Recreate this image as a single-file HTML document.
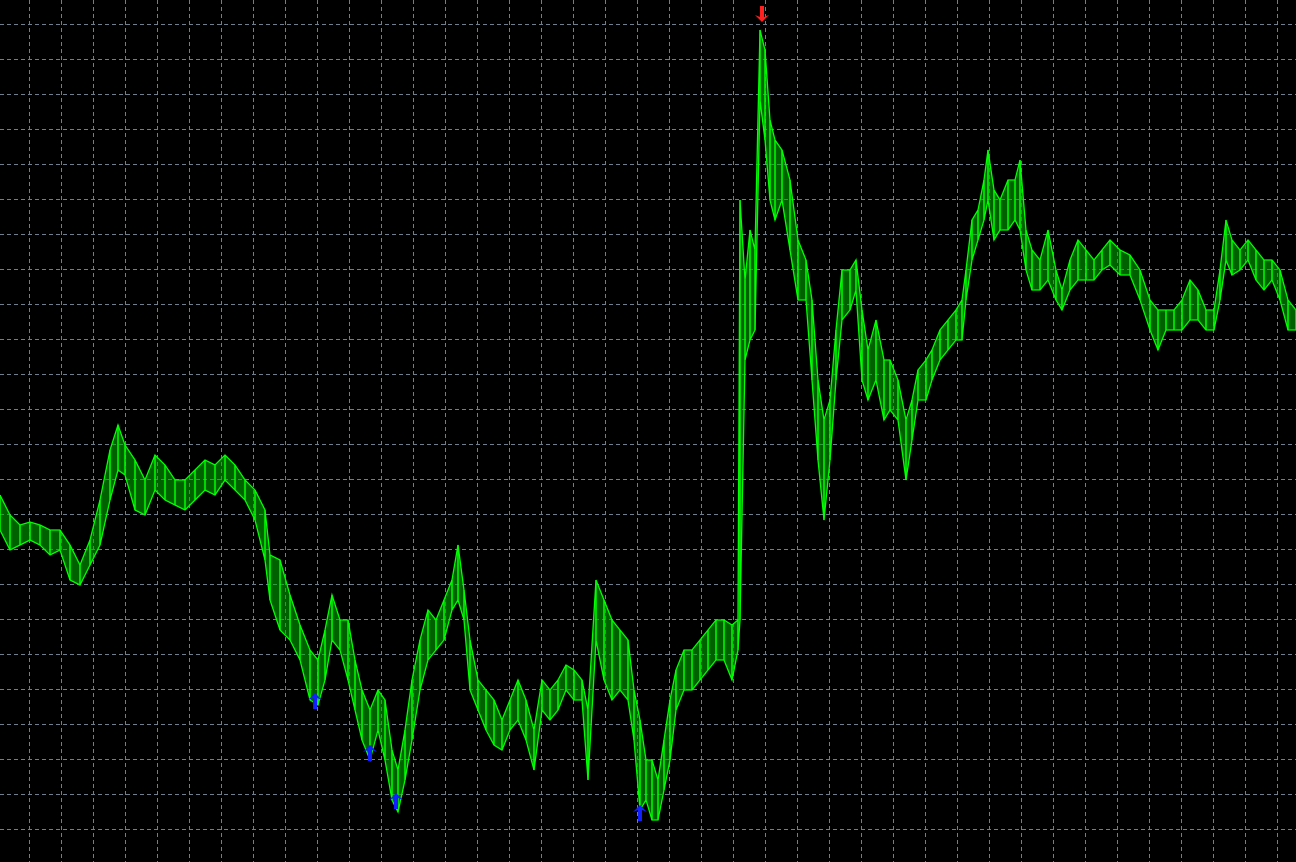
<!DOCTYPE html>
<html><head><meta charset="utf-8"><style>
html,body{margin:0;padding:0;background:#000;overflow:hidden}
svg{display:block}
</style></head><body>
<svg id="chart" width="1296" height="862" viewBox="0 0 1296 862" xmlns="http://www.w3.org/2000/svg">
<rect x="0" y="0" width="1296" height="862" fill="#000"/>
<g id="grid"></g>
<g id="series"></g>
<g id="signals"></g>
</svg>
<script>
const times=[0,10,20,30,40,50,60,70,80,90,100,110,118,125,135,145,155,165,175,185,195,205,215,225,235,245,255,265,270,280,290,300,310,318,325,332,340,348,355,362,370,378,385,392,398,405,412,420,428,436,444,452,458,464,470,478,486,494,502,510,518,526,534,542,550,558,566,574,582,588,596,604,612,620,628,634,640,646,652,658,664,670,676,684,692,700,708,716,724,732,738,740,745,750,755,760,765,770,775,782,790,798,806,812,818,824,830,836,842,850,856,862,868,876,884,890,898,906,912,918,926,932,940,948,956,962,966,972,978,984,988,994,1000,1008,1015,1020,1026,1032,1040,1048,1056,1062,1070,1078,1086,1094,1102,1110,1120,1130,1140,1150,1158,1166,1174,1182,1190,1198,1206,1214,1220,1226,1232,1240,1248,1256,1264,1272,1280,1288,1296];
const highs=[367,347,337,340,337,332,332,317,297,322,362,412,437,417,402,382,407,397,382,382,392,402,397,407,397,382,372,352,307,302,267,237,212,202,232,267,242,242,202,172,152,172,162,112,92,132,182,222,252,242,262,282,317,272,222,182,172,162,142,162,182,162,132,182,172,182,197,192,182,152,282,262,242,232,222,172,142,102,102,82,122,162,192,212,212,222,232,242,242,237,242,662,582,632,612,832,812,742,722,712,682,622,602,562,482,442,462,532,592,592,602,552,512,542,502,502,482,442,462,492,502,512,532,542,552,562,592,642,652,682,712,672,662,682,682,702,632,612,602,632,592,572,602,622,612,602,612,622,612,607,592,562,552,552,552,562,582,572,552,552,592,642,622,612,622,612,602,602,592,562,552];
const lows=[332,312,317,322,317,307,312,282,277,297,317,362,392,387,352,347,372,362,357,352,362,372,367,382,372,362,342,302,262,232,222,202,162,157,182,222,212,182,152,122,102,132,102,62,50,82,122,172,202,212,222,252,262,242,172,152,132,117,112,132,142,122,92,152,142,152,172,162,162,82,222,182,162,172,162,122,52,62,42,42,72,102,152,172,172,182,192,202,202,182,212,242,502,522,532,762,722,662,642,662,612,562,562,482,402,342,402,482,542,552,572,482,462,482,442,452,442,382,422,462,462,482,502,512,522,522,562,602,622,642,662,622,632,632,642,632,592,572,572,582,562,552,572,582,582,582,592,597,587,587,562,532,512,532,532,532,542,542,532,532,562,602,587,592,602,582,572,582,562,532,532];
const upTimes=[315,370,396,640];
const upPrices=[162,110,62,50];
const downTimes=[762];
const downPrices=[847];

const W=1296,H=862,NS='http://www.w3.org/2000/svg';
function xScale(t){return t*(W/1296);}
function yScale(p){return H-p;}
function mk(tag,attrs,parent){const e=document.createElementNS(NS,tag);for(const k in attrs)e.setAttribute(k,attrs[k]);parent.appendChild(e);return e;}

const grid=document.getElementById('grid');
for(let x=29.5;x<W;x+=32){
  const l=mk('line',{x1:x,y1:0,x2:x,y2:H,stroke:'#6f7f90','stroke-width':1,'stroke-dasharray':'4 3'},grid);
  
  
}
for(let y=24.5;y<H;y+=35){
  const l=mk('line',{x1:0,y1:y,x2:W,y2:y,stroke:'#6f7f90','stroke-width':1,'stroke-dasharray':'4 3'},grid);
  
  
}

const series=document.getElementById('series');
let pts=[];
for(let i=0;i<times.length;i++)pts.push(xScale(times[i])+','+yScale(highs[i]));
for(let i=times.length-1;i>=0;i--)pts.push(xScale(times[i])+','+yScale(lows[i]));
const band=mk('polygon',{points:pts.join(' '),fill:'#00b000','fill-opacity':0.55,stroke:'none'},series);


const hiLine=mk('polyline',{points:times.map((t,i)=>xScale(t)+','+yScale(highs[i])).join(' '),fill:'none',stroke:'#00ff00','stroke-width':1.3},series);


const loLine=mk('polyline',{points:times.map((t,i)=>xScale(t)+','+yScale(lows[i])).join(' '),fill:'none',stroke:'#00ff00','stroke-width':1.3},series);


for(let i=0;i<times.length;i++){
  const b=mk('line',{x1:xScale(times[i]),y1:yScale(highs[i]),x2:xScale(times[i]),y2:yScale(lows[i]),stroke:'#00ff00','stroke-width':1.5},series);
  
  
}

const sig=document.getElementById('signals');
for(let i=0;i<upTimes.length;i++){
  const x=xScale(upTimes[i]),y=yScale(upPrices[i]);
  const a=mk('path',{d:`M${x},${y-7} L${x+7},${y} L${x+2},${y-2} L${x+2},${y+9} L${x-2},${y+9} L${x-2},${y-2} L${x-7},${y} Z`,fill:'#1020ff'},sig);
  
  
}
for(let i=0;i<downTimes.length;i++){
  const x=xScale(downTimes[i]),y=yScale(downPrices[i]);
  const a=mk('path',{d:`M${x},${y+7} L${x+7},${y} L${x+2},${y+2} L${x+2},${y-9} L${x-2},${y-9} L${x-2},${y+2} L${x-7},${y} Z`,fill:'#ff2020'},sig);
  
  
}
</script>
</body></html>
